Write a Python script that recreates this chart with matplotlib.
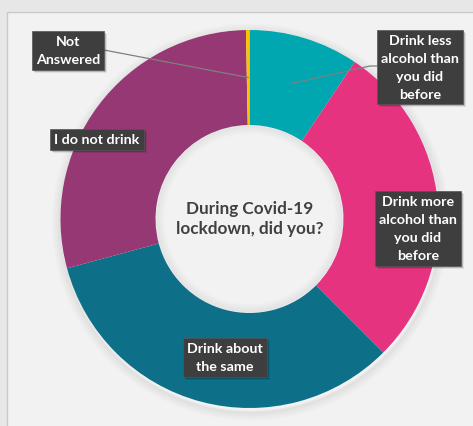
import numpy as np
import matplotlib
matplotlib.use("Agg")
import matplotlib.pyplot as plt
from matplotlib.patches import Rectangle, Circle

# Survey responses (share of respondents, %)
categories = [
    "Drink less\nalcohol than\nyou did\nbefore",
    "Drink more\nalcohol than\nyou did\nbefore",
    "Drink about\nthe same",
    "I do not drink",
    "Not\nAnswered",
]
shares = [9.4, 28.1, 33.3, 28.9, 0.3]
colors = ["#00A6B0", "#E6337F", "#0E6F89", "#953873", "#FFC000"]
center_title = "During Covid-19\nlockdown, did you?"

W, H = 473, 427
fig = plt.figure(figsize=(W / 100, H / 100), dpi=100)
fig.patch.set_facecolor("#E7E7E7")
ax = fig.add_axes([0, 0, 1, 1])
ax.set_xlim(0, W)
ax.set_ylim(0, H)
ax.set_aspect("equal")
ax.axis("off")

plt.rcParams["font.family"] = ["Lato", "DejaVu Sans"]

# chart panel
ax.add_patch(Rectangle((7, -5), W, H - 13 + 5, facecolor="#F2F2F2",
                       edgecolor="#C9C9C9", lw=1.0, zorder=0))

cx, cy = 249.5, H - 220
r_out, ring = 189, 95

# soft drop shadow under the ring
for i, a in enumerate(np.linspace(0.04, 0.008, 6)):
    ax.add_patch(Circle((cx + 1, cy - 3), r_out + 1 + i * 1.5,
                        facecolor="none", edgecolor="#000000",
                        lw=2, alpha=a, zorder=1))

wedges, _ = ax.pie(shares, colors=colors, startangle=90, counterclock=False,
                   center=(cx, cy), radius=r_out,
                   wedgeprops=dict(width=ring, linewidth=0), frame=False)
for w in wedges:
    w.set_zorder(2)

# faint inner shadow of the hole
r_in = r_out - ring
for i, a in enumerate(np.linspace(0.035, 0.005, 6)):
    ax.add_patch(Circle((cx, cy), r_in - 1 - i * 1.5, facecolor="none",
                        edgecolor="#000000", lw=2, alpha=a, zorder=3))
ax.add_patch(Circle((cx, cy), r_in - 9, facecolor="#F2F2F2",
                    edgecolor="none", zorder=3))

ax.set_xlim(0, W)
ax.set_ylim(0, H)

ax.text(cx, cy + 1, center_title, ha="center", va="center", fontsize=12.3,
        color="#404040", fontweight="bold", linespacing=1.3, zorder=5)

# label boxes (centre positions in px from the top-left corner)
label_pos = [(420, 68), (418, 229.5), (225, 358.5), (97, 140.5), (68, 51.5)]
label_texts = []
for lab, (lx, ly) in zip(categories, label_pos):
    t = ax.text(lx, H - ly, lab, ha="center", va="center", fontsize=10.3,
                fontweight="bold", linespacing=1.6, color="white", zorder=7,
                bbox=dict(boxstyle="square,pad=0.28", facecolor="#3E3E3E",
                          edgecolor="#555555", lw=0.5))
    label_texts.append(t)

# drop shadows behind the label boxes
fig.canvas.draw()
inv = ax.transData.inverted()
for t in label_texts:
    ext = t.get_bbox_patch().get_window_extent()
    (x0, y0), (x1, y1) = inv.transform([[ext.x0, ext.y0], [ext.x1, ext.y1]])
    for k, a in enumerate([0.18, 0.08]):
        ax.add_patch(Rectangle((x0 + 2 + k, y0 - 2 - k), x1 - x0, y1 - y0,
                               facecolor="#000000", edgecolor="none",
                               alpha=a, zorder=6))

# leader lines from the small slices to their boxes
cum = np.cumsum([0] + shares)
r_mid = r_out - ring / 2
def ring_point(i):
    ang = np.deg2rad(90 - 360 * (cum[i] + cum[i + 1]) / 2 / 100)
    return cx + r_mid * np.cos(ang), cy + r_mid * np.sin(ang)

px, py = ring_point(0)
ax.plot([px, 370, 377], [py, H - 67, H - 67], color="#7F7F7F", lw=0.9, zorder=4)
px, py = ring_point(4)
ax.plot([px, 104], [py, H - 51], color="#7F7F7F", lw=0.9, zorder=4)

fig.savefig("out.png", dpi=100, facecolor=fig.get_facecolor())
